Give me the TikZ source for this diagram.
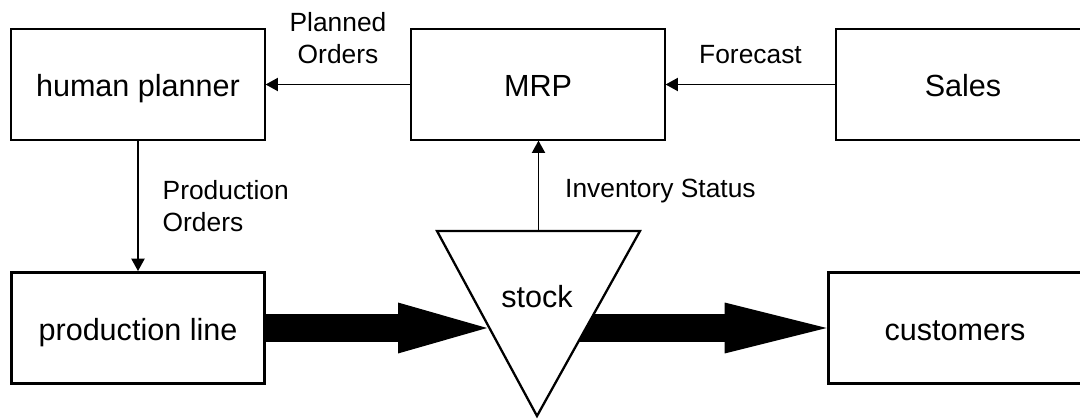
\documentclass[tikz,border=0pt]{standalone}
\usepackage{fontspec}
\setmainfont{Liberation Sans}
\usepackage{tikz}
\usetikzlibrary{arrows.meta,calc}

\begin{document}
\begin{tikzpicture}[x=0.02cm,y=-0.02cm,>={Triangle[length=7pt,width=7.5pt]},
 line join=miter,
 flow/.style={line width=0.58cm,-{Triangle[length=#1,width=1.02cm,line width=0pt]}}]
 \tikzstyle{box}=[draw,line width=0.75pt,minimum width=5.08cm,minimum height=2.22cm,
 inner sep=0pt,font=\fontsize{17.4}{21}\selectfont,text height=0.5cm,text depth=0pt]
 \tikzstyle{heavy box}=[box,line width=1.7pt]
 \tikzstyle{info}=[->,line width=0.8pt]
 \tikzstyle{lbl}=[font=\fontsize{15}{18}\selectfont,inner sep=0pt]
 \useasboundingbox (0,0) rectangle (1080,419);

 \node[box]       (planner) at (138,84.5) {human planner};
 \node[box]       (mrp)     at (538,84.5) {MRP};
 \node[box]       (sales)   at (963,84.5) {Sales};
 \node[heavy box] (line)    at (138,328)  {production line};
 \node[heavy box] (cust)    at (955,328)  {customers};

 % stock triangle
 \coordinate (stl)  at (437,231);
 \coordinate (str)  at (640,231);
 \coordinate (sbot) at (537,416);
 \coordinate (sin)  at ($(stl)!0.5!(sbot)$);
 \coordinate (stop) at ($(stl)!0.5!(str)$);

 \draw[flow=1.78cm] (line.east) -- (line.east -| sin);
 \draw[flow=2.04cm] (sbot |- cust.west) -- (cust.west);
 \draw[line width=1.3pt,fill=white] (stl) -- (str) -- (sbot) -- cycle;
 \node[font=\fontsize{17.4}{21}\selectfont,anchor=base] (stock) at (537,307) {stock};

 \draw[info] (mrp) -- (planner)
 node[lbl,midway,above=0.4cm,align=center] {Planned\\Orders};
 \draw[info] (sales) -- (mrp)
 node[lbl,midway,above=0.4cm] {Forecast};
 \draw[info] (planner) -- (line)
 node[lbl,midway,right=0.48cm,align=left] {Production\\Orders};
 \draw[info] (stop) -- (stop |- mrp.south)
 node[lbl,pos=0.44,right=0.52cm] {Inventory Status};
\end{tikzpicture}
\end{document}
